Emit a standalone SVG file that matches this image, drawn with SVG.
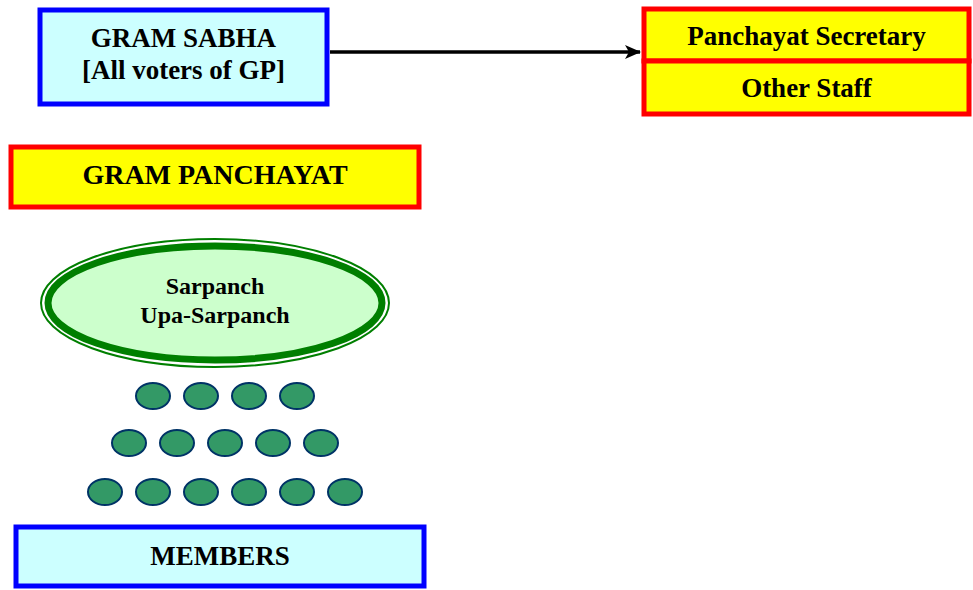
<svg xmlns="http://www.w3.org/2000/svg" width="973" height="590" viewBox="0 0 973 590">
<style>
.t{font-family:"Liberation Serif","Times New Roman",serif;font-weight:bold;fill:#000;text-anchor:middle}
.big{font-size:27px}
.mid{font-size:24px}
.blue{fill:#CCFFFF;stroke:#0000FF;stroke-width:5}
.red{fill:#FFFF00;stroke:#FF0000;stroke-width:5}
.m{fill:#339966;stroke:#003366;stroke-width:2}
</style>
<defs>
<marker id="ah" markerWidth="16" markerHeight="14" refX="15" refY="7" orient="auto" markerUnits="userSpaceOnUse">
<path d="M0,0 L16,7 L0,14 L4,7 Z" fill="#000"/>
</marker>
</defs>
<g id="connectors">
<line x1="330" y1="52" x2="640" y2="52" stroke="#000" stroke-width="3.5" marker-end="url(#ah)"/>
</g>
<g id="gram-sabha">
<rect class="blue" x="40" y="10" width="287" height="94"/>
<text class="t big" x="183.5" y="47">GRAM SABHA</text>
<text class="t big" x="183.5" y="79">[All voters of GP]</text>
</g>
<g id="staff">
<rect class="red" x="644" y="9" width="325" height="52"/>
<rect class="red" x="644" y="61" width="325" height="53"/>
<text class="t big" x="806.5" y="45">Panchayat Secretary</text>
<text class="t big" x="806.5" y="97">Other Staff</text>
</g>
<g id="gram-panchayat">
<rect class="red" x="11" y="147" width="408" height="60"/>
<text class="t" style="font-size:28px" x="215" y="184">GRAM PANCHAYAT</text>
</g>
<g id="sarpanch">
<ellipse cx="215" cy="303" rx="174" ry="64" fill="none" stroke="#007F00" stroke-width="2"/>
<ellipse cx="215" cy="303" rx="167" ry="57" fill="#CCFFCC" stroke="#007F00" stroke-width="7"/>
<text class="t mid" x="215" y="294">Sarpanch</text>
<text class="t mid" x="215" y="323">Upa-Sarpanch</text>
</g>
<g id="member-dots">
<ellipse class="m" cx="153" cy="396" rx="17" ry="13"/>
<ellipse class="m" cx="201" cy="396" rx="17" ry="13"/>
<ellipse class="m" cx="249" cy="396" rx="17" ry="13"/>
<ellipse class="m" cx="297" cy="396" rx="17" ry="13"/>
<ellipse class="m" cx="129" cy="443" rx="17" ry="13"/>
<ellipse class="m" cx="177" cy="443" rx="17" ry="13"/>
<ellipse class="m" cx="225" cy="443" rx="17" ry="13"/>
<ellipse class="m" cx="273" cy="443" rx="17" ry="13"/>
<ellipse class="m" cx="321" cy="443" rx="17" ry="13"/>
<ellipse class="m" cx="105" cy="492" rx="17" ry="13"/>
<ellipse class="m" cx="153" cy="492" rx="17" ry="13"/>
<ellipse class="m" cx="201" cy="492" rx="17" ry="13"/>
<ellipse class="m" cx="249" cy="492" rx="17" ry="13"/>
<ellipse class="m" cx="297" cy="492" rx="17" ry="13"/>
<ellipse class="m" cx="345" cy="492" rx="17" ry="13"/>
</g>
<g id="members">
<rect class="blue" x="16" y="527" width="408" height="59"/>
<text class="t big" x="220" y="565">MEMBERS</text>
</g>
</svg>
